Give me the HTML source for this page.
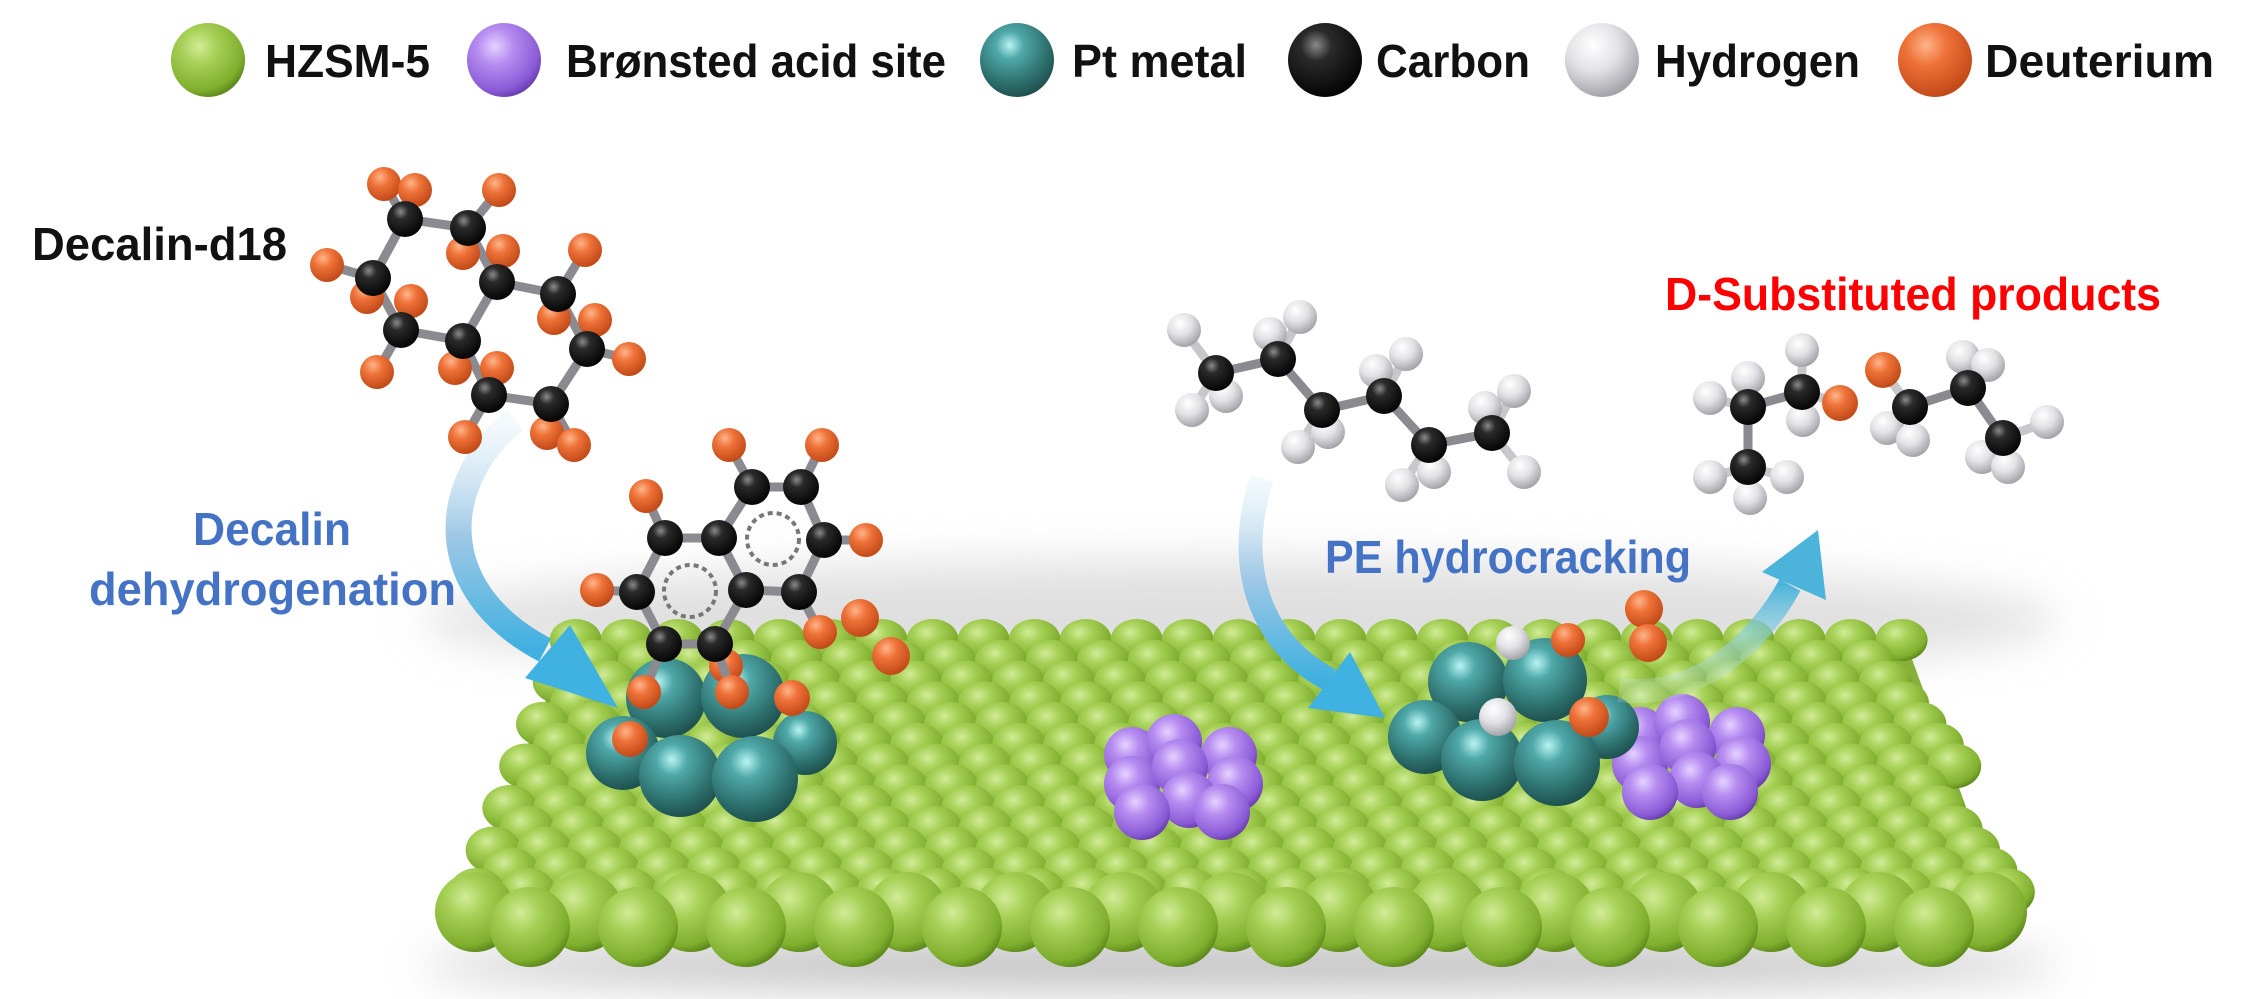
<!DOCTYPE html>
<html><head><meta charset="utf-8">
<style>
html,body{margin:0;padding:0;background:#fff;width:2247px;height:999px;overflow:hidden}
svg{display:block}
</style></head>
<body>
<svg id="s" width="2247" height="999" viewBox="0 0 2247 999" xmlns="http://www.w3.org/2000/svg">
<defs>
<radialGradient id="gG" cx="0.38" cy="0.32" r="0.7"><stop offset="0" stop-color="#d2ec98"/><stop offset="0.35" stop-color="#a6d056"/><stop offset="0.85" stop-color="#7fae2e"/><stop offset="1" stop-color="#5d8a1c"/></radialGradient>
<radialGradient id="gP" cx="0.38" cy="0.32" r="0.7"><stop offset="0" stop-color="#e6d2ff"/><stop offset="0.35" stop-color="#b68cf0"/><stop offset="0.85" stop-color="#8a5ad6"/><stop offset="1" stop-color="#6a3fb0"/></radialGradient>
<radialGradient id="gPt" cx="0.4" cy="0.3" r="0.75"><stop offset="0" stop-color="#b8f4f4"/><stop offset="0.25" stop-color="#4fa8a8"/><stop offset="0.7" stop-color="#2c6e6c"/><stop offset="1" stop-color="#1b4a48"/></radialGradient>
<radialGradient id="gC" cx="0.38" cy="0.3" r="0.7"><stop offset="0" stop-color="#8a8a8a"/><stop offset="0.3" stop-color="#2a2a2a"/><stop offset="1" stop-color="#050505"/></radialGradient>
<radialGradient id="gH" cx="0.38" cy="0.3" r="0.7"><stop offset="0" stop-color="#ffffff"/><stop offset="0.5" stop-color="#e2e2e6"/><stop offset="1" stop-color="#a4a4aa"/></radialGradient>
<radialGradient id="gD" cx="0.38" cy="0.3" r="0.7"><stop offset="0" stop-color="#ffb48a"/><stop offset="0.4" stop-color="#ee7238"/><stop offset="1" stop-color="#c24a18"/></radialGradient>
<linearGradient id="aL" x1="0" y1="0" x2="0" y2="1"><stop offset="0" stop-color="#dbeef7" stop-opacity="0.3"/><stop offset="0.5" stop-color="#9fc8e6"/><stop offset="1" stop-color="#3fb0e0"/></linearGradient>
<linearGradient id="aU" x1="0" y1="1" x2="0" y2="0"><stop offset="0" stop-color="#cde9ee" stop-opacity="0.2"/><stop offset="1" stop-color="#4cb4da"/></linearGradient>
<filter id="bl" x="-20%" y="-50%" width="140%" height="200%"><feGaussianBlur stdDeviation="22"/></filter>
</defs>
<g id="bg"></g>
<g id="slab"></g>
<g id="arrows">
<path d="M515 420 C440 480,430 590,545 650" fill="none" stroke="url(#aL)" stroke-width="26"/>
<polygon points="618,708 525,678 570,625" fill="#40b2e2"/>
<path d="M1262 478 C1235 560,1255 640,1330 680" fill="none" stroke="url(#aL)" stroke-width="24"/>
<polygon points="1385,718 1308,708 1350,652" fill="#40b2e2"/>
<path d="M1619 690 C1700 700,1760 640,1790 585" fill="none" stroke="url(#aU)" stroke-width="24"/>
<polygon points="1818,530 1826,600 1762,572" fill="#4cb4da"/>
</g>
<g id="mol"></g>
<g font-family="'Liberation Sans',Arial,sans-serif" font-weight="bold">
<text x="265" y="77" font-size="46" textLength="165" lengthAdjust="spacingAndGlyphs" fill="#111">HZSM-5</text>
<text x="566" y="77" font-size="46" textLength="380" lengthAdjust="spacingAndGlyphs" fill="#111">Brønsted acid site</text>
<text x="1072" y="77" font-size="46" textLength="175" lengthAdjust="spacingAndGlyphs" fill="#111">Pt metal</text>
<text x="1376" y="77" font-size="46" textLength="154" lengthAdjust="spacingAndGlyphs" fill="#111">Carbon</text>
<text x="1655" y="77" font-size="46" textLength="205" lengthAdjust="spacingAndGlyphs" fill="#111">Hydrogen</text>
<text x="1985" y="77" font-size="46" textLength="229" lengthAdjust="spacingAndGlyphs" fill="#111">Deuterium</text>
<text x="32" y="260" font-size="46" textLength="255" lengthAdjust="spacingAndGlyphs" fill="#111">Decalin-d18</text>
<text x="193" y="545" font-size="46" textLength="158" lengthAdjust="spacingAndGlyphs" fill="#4472c4">Decalin</text>
<text x="89" y="605" font-size="46" textLength="367" lengthAdjust="spacingAndGlyphs" fill="#4472c4">dehydrogenation</text>
<text x="1325" y="573" font-size="46" textLength="366" lengthAdjust="spacingAndGlyphs" fill="#4472c4">PE hydrocracking</text>
<text x="1665" y="310" font-size="46" textLength="496" lengthAdjust="spacingAndGlyphs" fill="#ff0000">D-Substituted products</text>
</g>
</svg>
<script>
(function(){
var NS='http://www.w3.org/2000/svg';
function el(p,tag,a){var e=document.createElementNS(NS,tag);for(var k in a)e.setAttribute(k,a[k]);p.appendChild(e);return e;}
var bg=document.getElementById('bg'),slab=document.getElementById('slab'),mol=document.getElementById('mol');
el(bg,'ellipse',{cx:1240,cy:620,rx:820,ry:60,fill:'#d8d8d8',filter:'url(#bl)',opacity:0.8});
el(bg,'ellipse',{cx:1240,cy:965,rx:820,ry:22,fill:'#999',filter:'url(#bl)',opacity:0.7});
var L=[[208,'gG'],[504,'gP'],[1017,'gPt'],[1325,'gC'],[1602,'gH'],[1935,'gD']];
L.forEach(function(l){el(bg,'circle',{cx:l[0],cy:60,r:37,fill:'url(#'+l[1]+')'});});
el(slab,'polygon',{points:'570,640 1905,640 2000,900 465,900',fill:'#86b03a'});
var rows=13;
for(var i=0;i<rows;i++){
  var t=i/(rows-1);
  var y=640+i*21;
  var xl=560-100*t, xr=1920+105*t;
  var rx=26+2*t, ry=21+3*t, sp=51;
  var off=(i%2)?sp/2:0;
  for(var x=xl+off+rx*0.6;x<xr-rx*0.5;x+=sp){
    el(slab,'ellipse',{cx:x.toFixed(1),cy:y,rx:rx,ry:ry,fill:'url(#gG)'});
  }
}
for(var x=475;x<2030;x+=108) el(slab,'circle',{cx:x,cy:912,r:40,fill:'url(#gG)'});
for(var x=530;x<2030;x+=108) el(slab,'circle',{cx:x,cy:927,r:40,fill:'url(#gG)'});
var pp=[[-50,-17],[-8,-30],[47,-17],[-50,12],[-2,-5],[53,12],[7,28],[-40,40],[40,40]];
function purple(cx,cy){pp.forEach(function(p){el(slab,'circle',{cx:cx+p[0],cy:cy+p[1],r:28,fill:'url(#gP)'});});}
purple(1182,772);purple(1690,752);
var pt=[[1607,727,32],[1468,682,40],[1545,680,42],[1425,737,37],[1482,760,41],[1557,763,43]];
function cluster(dx,dy,extra){
  pt.forEach(function(p){el(slab,'circle',{cx:p[0]+dx,cy:p[1]+dy,r:p[2],fill:'url(#gPt)'});});
  extra.forEach(function(e){el(slab,'circle',{cx:e[0],cy:e[1],r:e[2],fill:'url(#'+e[3]+')'});});
}
cluster(0,0,[[1513,643,17,'gH'],[1568,640,17,'gD'],[1498,717,19,'gH'],[1589,717,20,'gD']]);
cluster(-802,16,[[726,666,17,'gD'],[792,698,18,'gD'],[630,739,18,'gD']]);
[[860,618],[891,656],[1644,609],[1648,643]].forEach(function(p){el(slab,'circle',{cx:p[0],cy:p[1],r:19,fill:'url(#gD)'});});
function molecule(C,X,xg,th,rr){
  var g=el(mol,'g',{});
  var i,j;
  for(i=0;i<C.length;i++)for(j=i+1;j<C.length;j++){
    var d=Math.hypot(C[i][0]-C[j][0],C[i][1]-C[j][1]);
    if(d<th) el(g,'line',{x1:C[i][0],y1:C[i][1],x2:C[j][0],y2:C[j][1],stroke:'#8a8a90','stroke-width':9});
  }
  X.forEach(function(x){var b=null,bd=1e9;C.forEach(function(c){var d=Math.hypot(c[0]-x[0],c[1]-x[1]);if(d<bd){bd=d;b=c;}});
    el(g,'line',{x1:x[0],y1:x[1],x2:b[0],y2:b[1],stroke:xg=='gH'?'#c8c8cc':'#8a8a90','stroke-width':9});});
  X.forEach(function(x){el(g,'circle',{cx:x[0],cy:x[1],r:x[2]||rr,fill:'url(#'+(x[3]||xg)+')'});});
  C.forEach(function(c){el(g,'circle',{cx:c[0],cy:c[1],r:18,fill:'url(#gC)'});});
}
molecule([[405,219],[468,228],[373,278],[497,282],[558,294],[401,330],[463,341],[587,349],[489,395],[551,404]],
 [[384,184],[415,190],[499,190],[327,265],[463,253],[503,251],[585,250],[367,297],[411,301],[554,318],[595,320],[629,359],[377,372],[455,368],[497,368],[465,437],[547,433],[574,445]],'gD',75,17);
molecule([[752,487],[801,487],[665,538],[719,538],[824,540],[637,592],[746,590],[799,592],[664,644],[715,644]],
 [[729,445],[822,445],[646,496],[866,540],[597,590],[820,632],[644,692],[732,692]],'gD',70,17);
molecule([[1216,373],[1278,359],[1322,410],[1384,396],[1429,445],[1492,433]],
 [[1184,330],[1192,410],[1226,396],[1300,317],[1270,334],[1298,447],[1328,432],[1406,354],[1376,371],[1402,485],[1434,472],[1514,391],[1485,408],[1524,472]],'gH',80,17);
molecule([[1748,407],[1802,392],[1748,467],[1910,407],[1968,388],[2003,438]],
 [[1840,403,18,'gD'],[1883,370,18,'gD'],[1710,398],[1748,378],[1802,350],[1803,420],[1710,477],[1750,498],[1787,477],[1887,428],[1913,440],[1963,357],[1988,365],[2047,422],[1982,457],[2008,467]],'gH',75,17);
el(mol,'circle',{cx:690,cy:591,r:26,fill:'none',stroke:'#777','stroke-width':4,'stroke-dasharray':'5 4'});
el(mol,'circle',{cx:773,cy:539,r:26,fill:'none',stroke:'#777','stroke-width':4,'stroke-dasharray':'5 4'});
})();
</script>
</body></html>
